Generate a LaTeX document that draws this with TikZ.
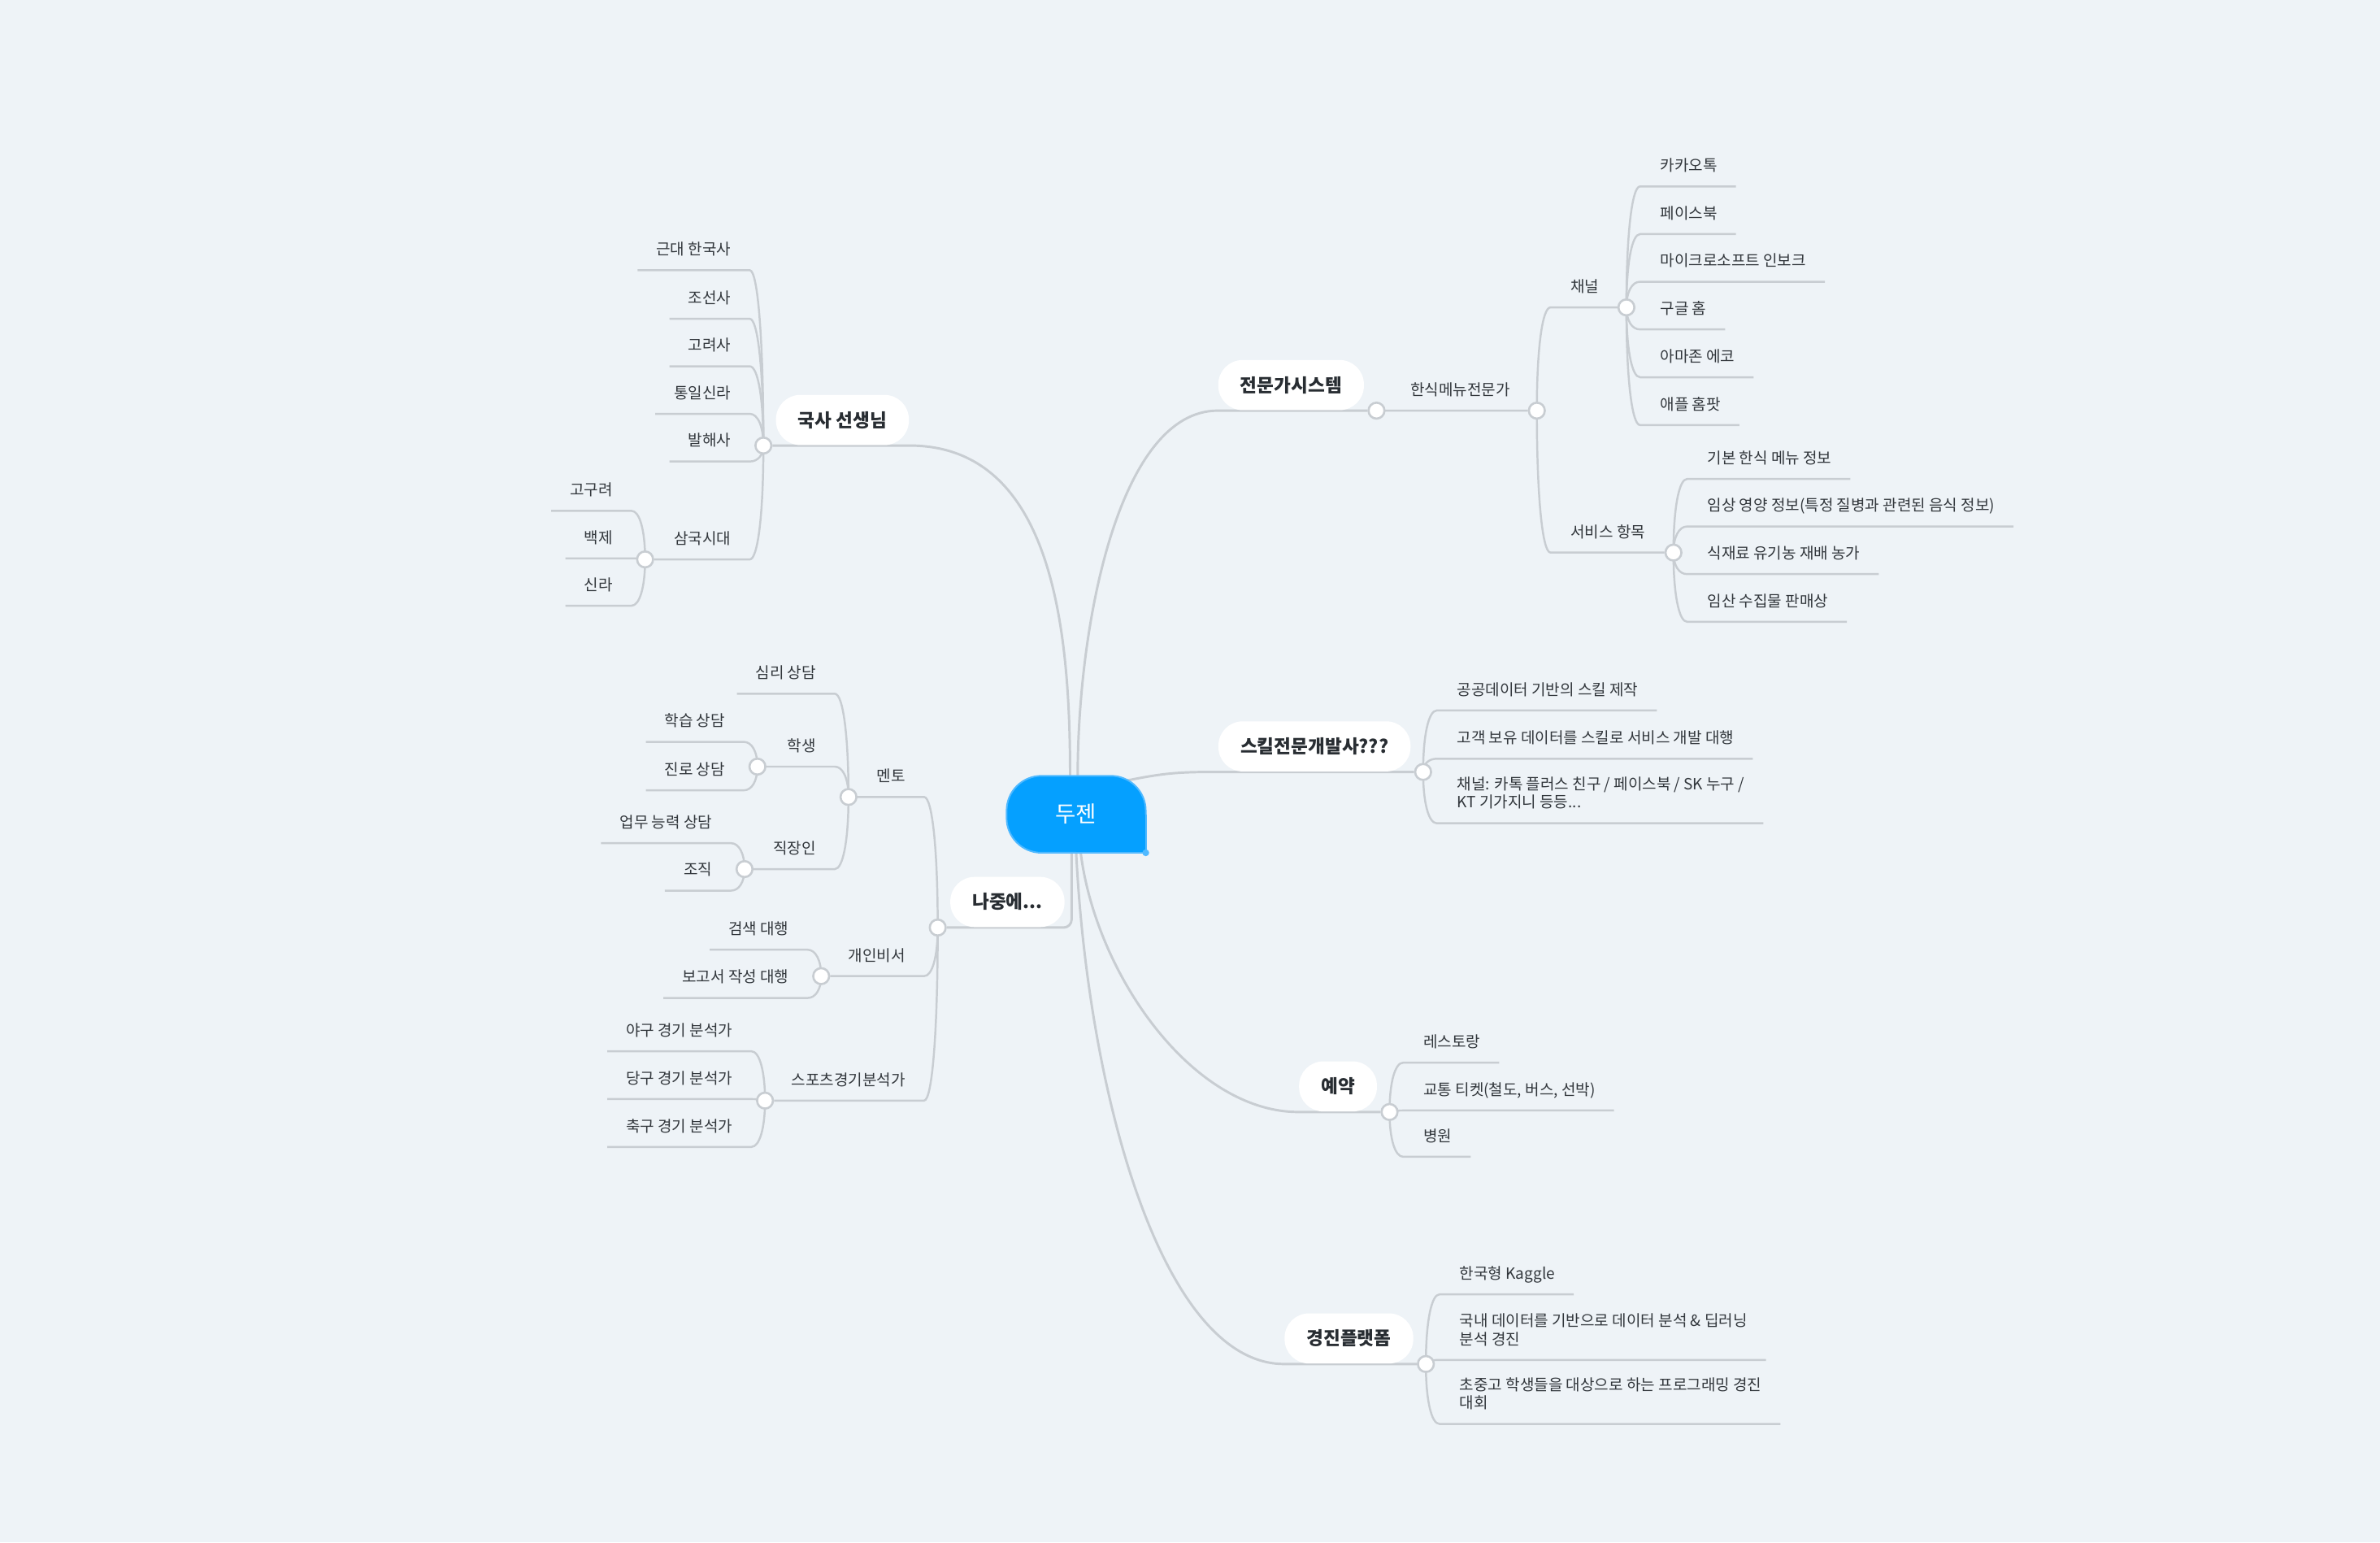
\documentclass[tikz,border=0pt]{standalone}
\usepackage{fontspec}
\usepackage{tikz}
\usetikzlibrary{calc,positioning}
\newfontfamily\kr{Noto Sans CJK KR}
\definecolor{paper}{RGB}{238,243,247}
\definecolor{wire}{RGB}{200,205,210}
\definecolor{ink}{RGB}{50,55,60}
\definecolor{inkb}{RGB}{40,45,50}
\definecolor{dzfill}{RGB}{5,160,255}
\definecolor{dzline}{RGB}{80,185,255}
\pgfdeclarelayer{back}
\pgfdeclarelayer{lines}
\pgfdeclarelayer{shapes}
\pgfsetlayers{back,lines,shapes,main}
% #1 parent dot, #2 name, #3 y of the line, #4 text
\newcommand{\leafR}[4]{%
  \coordinate (#2s) at ($(#1.center |- 0,#3)+(9,0)$);
  \node[leaf,anchor=base west] (#2) at ($(#2s)+(13,-10)$) {#4};
  \begin{pgfonlayer}{lines}
    \draw[twig] (#1.center) .. controls ($(#1.center)!.6!(#1.center |- #2s)$) and ($(#2s)!.6!(#1.center |- #2s)$) .. (#2s) -- ($(#2s -| #2.east)+(12,0)$);
  \end{pgfonlayer}}
\newcommand{\leafL}[4]{%
  \coordinate (#2s) at ($(#1.center |- 0,#3)+(-9,0)$);
  \node[leaf,anchor=base east] (#2) at ($(#2s)+(-12,-10)$) {#4};
  \begin{pgfonlayer}{lines}
    \draw[twig] (#1.center) .. controls ($(#1.center)!.6!(#1.center |- #2s)$) and ($(#2s)!.6!(#1.center |- #2s)$) .. (#2s) -- ($(#2s -| #2.west)+(-12,0)$);
  \end{pgfonlayer}}
% same, but the line ends in a new dot (#4 = its x)
\newcommand{\branchR}[5]{%
  \coordinate (#2s) at ($(#1.center |- 0,#3)+(9,0)$);
  \node[leaf,anchor=base west] (#2) at ($(#2s)+(13,-10)$) {#5};
  \node[junc] (#2j) at (#4,#3) {};
  \begin{pgfonlayer}{lines}
    \draw[twig] (#1.center) .. controls ($(#1.center)!.6!(#1.center |- #2s)$) and ($(#2s)!.6!(#1.center |- #2s)$) .. (#2s) -- (#2j);
  \end{pgfonlayer}}
\newcommand{\branchL}[5]{%
  \coordinate (#2s) at ($(#1.center |- 0,#3)+(-9,0)$);
  \node[leaf,anchor=base east] (#2) at ($(#2s)+(-12,-10)$) {#5};
  \node[junc] (#2j) at (#4,#3) {};
  \begin{pgfonlayer}{lines}
    \draw[twig] (#1.center) .. controls ($(#1.center)!.6!(#1.center |- #2s)$) and ($(#2s)!.6!(#1.center |- #2s)$) .. (#2s) -- (#2j);
  \end{pgfonlayer}}
\newcommand{\twoline}[2]{\begin{tabular}[b]{@{}l@{}}#1\\#2\end{tabular}}

\begin{document}
\begin{tikzpicture}[x=0.02cm,y=-0.02cm,
  leaf/.style={inner sep=0,text=ink,font=\kr\fontsize{5.8}{6.8}\selectfont},
  pill/.style={fill=white,rounded corners=0.32cm,minimum height=0.66cm,inner xsep=0.29cm,inner ysep=0,text=inkb,font=\kr\bfseries\fontsize{6.9}{8}\selectfont},
  junc/.style={circle,draw=wire,fill=white,line width=0.8pt,minimum size=0.21cm,inner sep=0},
  rootbox/.style={minimum width=1.82cm,minimum height=1cm,text=white,font=\kr\fontsize{8.4}{9.5}\selectfont},
  twig/.style={draw=wire,line width=0.75pt},
  trunk/.style={draw=wire,line width=0.9pt}]
\useasboundingbox (0,0) rectangle (1568,1016);
\begin{pgfonlayer}{back}
  \fill[paper] (0,0) rectangle (1568,1016);
\end{pgfonlayer}

\node[rootbox] (root) at (709,536.4) {두젠};
\begin{pgfonlayer}{shapes}
  \fill[dzfill,draw=dzline,line width=0.6pt,rounded corners=0.46cm] (root.south west) rectangle (root.north east);
  \fill[dzfill] (root.center) rectangle (root.south east);
  \draw[dzline,line width=0.6pt] (root.south) -- (root.south east) -- (root.east);
  \fill[dzline] (root.south east) circle (0.045cm);
\end{pgfonlayer}

\node[pill,anchor=south] (hist) at (555,293.5) {국사 선생님};
\node[pill,anchor=south] (esys) at (850.6,270.5) {전문가시스템};
\node[pill,anchor=south] (skill) at (866,508.5) {스킬전문개발사???};
\node[pill,anchor=south] (later) at (663.7,611) {나중에...};
\node[pill,anchor=south] (resv) at (881.5,732.5) {예약};
\node[pill,anchor=south] (comp) at (888.7,898.5) {경진플랫폼};
\node[junc,left=0.04cm of hist.south west] (histj) {};
\node[junc,right=0.04cm of esys.south east] (esysj) {};
\node[junc,right=0.04cm of skill.south east] (skillj) {};
\node[junc,left=0.04cm of later.south west] (laterj) {};
\node[junc,right=0.04cm of resv.south east] (resvj) {};
\node[junc,right=0.04cm of comp.south east] (compj) {};

\begin{pgfonlayer}{lines}
  \draw[trunk] ($(root.north)+(-4,0)$) .. controls +(0,-95) and +(95,0) .. (hist.south east) -- (histj);
  \draw[trunk] ($(root.north)+(1,0)$) .. controls +(0,-100) and +(-65,0) .. (esys.south west) -- (esysj);
  \draw[trunk] ($(root.north east)+(-12,3)$) .. controls +(25,-5) and +(-25,0) .. (skill.south west) -- (skillj);
  \draw[trunk,rounded corners=3] ($(root.south)+(-3,0)$) |- (laterj);
  \draw[trunk] ($(root.south)+(3,0)$) .. controls +(10,80) and +(-70,0) .. (resv.south west) -- (resvj);
  \draw[trunk] (root.south) .. controls +(8,160) and +(-80,0) .. (comp.south west) -- (compj);
\end{pgfonlayer}

% 전문가시스템
\branchR{esysj}{menu}{270.5}{1012.5}{한식메뉴전문가}
\branchR{menuj}{chan}{202.5}{1071.5}{채널}
\branchR{menuj}{serv}{364}{1102.5}{서비스 항목}
\leafR{chanj}{kakao}{122.8}{카카오톡}
\leafR{chanj}{fb}{154.2}{페이스북}
\leafR{chanj}{ms}{185.6}{마이크로소프트 인보크}
\leafR{chanj}{gg}{217}{구글 홈}
\leafR{chanj}{amz}{248.5}{아마존 에코}
\leafR{chanj}{apl}{280}{애플 홈팟}
\leafR{servj}{basic}{315.5}{기본 한식 메뉴 정보}
\leafR{servj}{clin}{346.8}{임상 영양 정보(특정 질병과 관련된 음식 정보)}
\leafR{servj}{farm}{378.2}{식재료 유기농 재배 농가}
\leafR{servj}{forest}{409.6}{임산 수집물 판매상}
% 스킬
\leafR{skillj}{pub}{468}{공공데이터 기반의 스킬 제작}
\leafR{skillj}{cust}{499.8}{고객 보유 데이터를 스킬로 서비스 개발 대행}
\leafR{skillj}{kch}{542.3}{\twoline{채널: 카톡 플러스 친구 / 페이스북 / SK 누구 /}{KT 기가지니 등등...}}
% 예약
\leafR{resvj}{rest}{700}{레스토랑}
\leafR{resvj}{ticket}{731.5}{교통 티켓(철도, 버스, 선박)}
\leafR{resvj}{hosp}{762}{병원}
% 경진플랫폼
\leafR{compj}{kag}{852.6}{한국형 Kaggle}
\leafR{compj}{dom}{895.8}{\twoline{국내 데이터를 기반으로 데이터 분석 \& 딥러닝}{분석 경진}}
\leafR{compj}{kids}{938}{\twoline{초중고 학생들을 대상으로 하는 프로그래밍 경진}{대회}}

% 국사 선생님
\leafL{histj}{modern}{178}{근대 한국사}
\leafL{histj}{joseon}{210}{조선사}
\leafL{histj}{goryeo}{241.3}{고려사}
\leafL{histj}{unif}{272.6}{통일신라}
\leafL{histj}{balhae}{304}{발해사}
\branchL{histj}{three}{368.5}{425}{삼국시대}
\leafL{threej}{goguryeo}{336.5}{고구려}
\leafL{threej}{baekje}{367.8}{백제}
\leafL{threej}{silla}{399}{신라}
% 나중에...
\branchL{laterj}{mentor}{525}{559}{멘토}
\branchL{laterj}{sec}{643}{541}{개인비서}
\branchL{laterj}{sport}{725}{504}{스포츠경기분석가}
\leafL{mentorj}{psy}{457}{심리 상담}
\branchL{mentorj}{stud}{505}{499}{학생}
\branchL{mentorj}{work}{572.5}{490.5}{직장인}
\leafL{studj}{learn}{488.7}{학습 상담}
\leafL{studj}{career}{520.6}{진로 상담}
\leafL{workj}{abil}{555.4}{업무 능력 상담}
\leafL{workj}{org}{586.7}{조직}
\leafL{secj}{search}{625.6}{검색 대행}
\leafL{secj}{report}{657.4}{보고서 작성 대행}
\leafL{sportj}{baseb}{692.5}{야구 경기 분석가}
\leafL{sportj}{billi}{724}{당구 경기 분석가}
\leafL{sportj}{soccer}{755.5}{축구 경기 분석가}
\end{tikzpicture}
\end{document}
